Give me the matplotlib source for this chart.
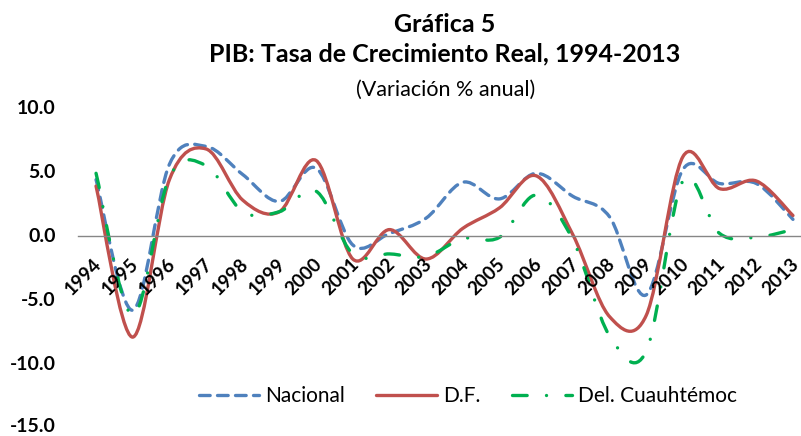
import matplotlib
matplotlib.use('Agg')
import matplotlib.pyplot as plt
from matplotlib.path import Path
from matplotlib.patches import PathPatch
from matplotlib.lines import Line2D
from matplotlib.transforms import ScaledTranslation, blended_transform_factory
import numpy as np

years = [str(y) for y in range(1994, 2014)]
nacional = [4.4, -5.8, 5.6, 7.0, 4.8, 2.7, 5.3, -0.7, 0.2, 1.4,
            4.2, 2.9, 4.9, 3.1, 1.5, -4.6, 5.2, 4.1, 4.1, 1.3]
df = [3.9, -7.9, 4.4, 6.8, 2.8, 1.9, 5.9, -1.8, 0.5, -1.8,
      0.6, 2.2, 4.7, 0.1, -6.3, -6.2, 6.2, 3.7, 4.3, 1.6]
cuauh = [4.9, -6.2, 4.6, 5.5, 1.9, 1.9, 3.5, -1.4, -1.4, -1.6,
         -0.2, -0.1, 3.2, -0.3, -7.8, -9.0, 4.3, 0.2, -0.1, 0.5]
series_names = ['Nacional', 'D.F.', 'Del. Cuauhtémoc']
yticks = [-15, -10, -5, 0, 5, 10]

plt.rcParams['font.family'] = ['Lato', 'DejaVu Sans']

W, H = 801, 436
fig = plt.figure(figsize=(W / 100, H / 100), dpi=100)
ax = fig.add_axes([77.7 / W, 8 / H, 733.6 / W, 320 / H])
ax.set_xlim(-0.5, len(years) - 0.5)
ax.set_ylim(-15, 10)


def smooth_path(xs, ys):
    pts = np.column_stack([xs, ys]).astype(float)
    n = len(pts)
    verts = [pts[0]]
    codes = [Path.MOVETO]
    for i in range(n - 1):
        p0 = pts[i - 1] if i > 0 else pts[i]
        p1 = pts[i]
        p2 = pts[i + 1]
        p3 = pts[i + 2] if i + 2 < n else pts[i + 1]
        c1 = p1 + (p2 - p0) / 6.0
        c2 = p2 - (p3 - p1) / 6.0
        verts += [c1, c2, p2]
        codes += [Path.CURVE4] * 3
    return Path(verts, codes)


x = np.arange(len(years))
styles = [
    dict(color='#4F81BD', ls=(0, (3.2, 2.2))),
    dict(color='#C0504D', ls='-'),
    dict(color='#00B050', ls=(0, (4.4, 5.8, 0.01, 5.8))),
]
lw = 2.4
handles = []
for vals, st, name in zip([nacional, df, cuauh], styles, series_names):
    patch = PathPatch(smooth_path(x, vals), fill=False, edgecolor=st['color'],
                      lw=lw, linestyle=st['ls'], capstyle='round',
                      joinstyle='round')
    ax.add_patch(patch)
    handles.append(Line2D([], [], color=st['color'], lw=lw, linestyle=st['ls'],
                          dash_capstyle='round', solid_capstyle='round'))

for s in ['top', 'right', 'left']:
    ax.spines[s].set_visible(False)
ax.spines['bottom'].set_position(('data', 0))
ax.spines['bottom'].set_color('#868686')
ax.spines['bottom'].set_linewidth(1.0)

# ticks without default labels; labels drawn as text anchored to the axis scales
ax.set_xticks(x)
ax.set_yticks(yticks)
ax.tick_params(length=0, labelbottom=False, labelleft=False)

xoff = ax.transData + ScaledTranslation(-3 / 100, -19 / 100, fig.dpi_scale_trans)
for xi, lab in zip(x, years):
    ax.text(xi, 0, lab, transform=xoff, rotation=45, ha='right', va='top',
            rotation_mode='anchor', fontsize=13.5, fontweight='bold',
            clip_on=False)

ytrans = blended_transform_factory(ax.transAxes, ax.transData)
for v in yticks:
    dy = 2 if v == yticks[0] else 0
    t = ytrans + ScaledTranslation(-22 / 100, dy / 100, fig.dpi_scale_trans)
    ax.text(0, v, f'{v:.1f}', transform=t, ha='right', va='center',
            fontsize=14, fontweight='bold', clip_on=False)

fig.text(445 / W, 1 - 31.5 / H, 'Gráfica 5', ha='center', va='baseline',
         fontsize=18, fontweight='bold')
fig.text(445 / W, 1 - 61.5 / H, 'PIB: Tasa de Crecimiento Real, 1994-2013',
         ha='center', va='baseline', fontsize=18, fontweight='bold')
fig.text(446 / W, 1 - 96 / H, '(Variación % anual)', ha='center', va='baseline',
         fontsize=15.5)

fig.legend(handles, series_names, loc='center', bbox_to_anchor=(468 / W, 1 - 396 / H),
           ncol=3, frameon=False, handlelength=2.9, handletextpad=0.3,
           columnspacing=1.5, fontsize=15)

fig.savefig('out.png', dpi=100)
